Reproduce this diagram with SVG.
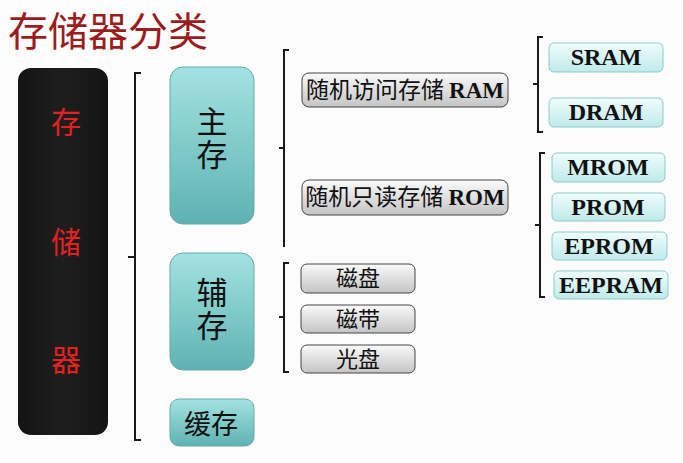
<svg xmlns="http://www.w3.org/2000/svg" width="683" height="463" viewBox="0 0 683 463">
<defs>
<linearGradient id="teal" x1="0" y1="0" x2="0" y2="1"><stop offset="0" stop-color="#a3e2e2"/><stop offset="1" stop-color="#5fb2b2"/></linearGradient>
<linearGradient id="cyan" x1="0" y1="0" x2="0" y2="1"><stop offset="0" stop-color="#f0fcfc"/><stop offset="1" stop-color="#bfeaea"/></linearGradient>
<linearGradient id="gray" x1="0" y1="0" x2="0" y2="1"><stop offset="0" stop-color="#fafafa"/><stop offset="1" stop-color="#c4c4c4"/></linearGradient>
<linearGradient id="blk" x1="0" y1="0" x2="1" y2="0"><stop offset="0" stop-color="#141414"/><stop offset="0.5" stop-color="#1e1e1e"/><stop offset="1" stop-color="#141414"/></linearGradient>
</defs>
<style>
.cjk{font-family:"Noto Sans CJK SC","Noto Sans",sans-serif}
.ser{font-family:"Liberation Serif","Noto Sans CJK SC",serif;font-weight:bold}
.br{fill:none;stroke:#1a1a1a;stroke-width:2}
.tealbox{fill:url(#teal);stroke:#6aa9a9;stroke-width:1}
.cyanbox{fill:url(#cyan);stroke:#8ccaca;stroke-width:1}
.graybox{fill:url(#gray);stroke:#444;stroke-width:1}
.big{font-size:31px;fill:#111;writing-mode:vertical-rl;letter-spacing:2px}
.mid{font-size:22px;fill:#111}
.lbl{font-size:24px;fill:#111}
.glbl{font-size:23px;fill:#111}
</style>
<rect width="683" height="463" fill="#fcfcfc"/>
<text x="8" y="46" class="cjk" font-size="40" fill="#9b1c1c">存储器分类</text>

<g id="root">
<rect x="18" y="68" width="90" height="367" rx="13" fill="url(#blk)"/>
<text class="cjk" font-size="30" fill="#e52020" text-anchor="middle"><tspan x="66" y="133">存</tspan><tspan x="66" y="253">储</tspan><tspan x="66" y="371">器</tspan></text>
</g>

<g id="connectors">
<path class="br" d="M141,73 H135 V440 H141 M135,257 H128"/>
<path class="br" d="M289,50 H284 V247 M284,148 H279"/>
<path class="br" d="M289,263 H284 V372 H289 M284,317 H279"/>
<path class="br" d="M543,37 H538 V132 H543 M538,84 H533"/>
<path class="br" d="M545,153 H540 V297 H545 M540,225 H535"/>
</g>

<g id="main">
<rect class="tealbox" x="170" y="67" width="84" height="157" rx="13"/>
<text class="cjk big" x="212" y="106">主存</text>
</g>
<g id="aux">
<rect class="tealbox" x="170" y="253" width="84" height="117" rx="13"/>
<text class="cjk big" x="212" y="277">辅存</text>
</g>
<g id="cache">
<rect class="tealbox" x="170" y="399" width="84" height="47" rx="9"/>
<text class="cjk" font-size="27" fill="#111" text-anchor="middle" x="211" y="434">缓存</text>
</g>

<g id="ram">
<rect class="graybox" x="302" y="73" width="206" height="34" rx="7"/>
<text x="405" y="98" text-anchor="middle" class="glbl"><tspan class="cjk">随机访问存储 </tspan><tspan class="ser">RAM</tspan></text>
</g>
<g id="rom">
<rect class="graybox" x="302" y="180" width="206" height="35" rx="7"/>
<text x="405" y="205" text-anchor="middle" class="glbl"><tspan class="cjk">随机只读存储 </tspan><tspan class="ser">ROM</tspan></text>
</g>

<g id="sram"><rect class="cyanbox" x="549" y="43" width="114" height="29" rx="5"/><text class="ser lbl" x="606" y="65" text-anchor="middle">SRAM</text></g>
<g id="dram"><rect class="cyanbox" x="549" y="98" width="114" height="29" rx="5"/><text class="ser lbl" x="606" y="120" text-anchor="middle">DRAM</text></g>
<g id="mrom"><rect class="cyanbox" x="552" y="153" width="113" height="29" rx="5"/><text class="ser lbl" x="608" y="175" text-anchor="middle">MROM</text></g>
<g id="prom"><rect class="cyanbox" x="552" y="193" width="113" height="28" rx="5"/><text class="ser lbl" x="608" y="215" text-anchor="middle">PROM</text></g>
<g id="eprom"><rect class="cyanbox" x="552" y="232" width="115" height="28" rx="5"/><text class="ser lbl" x="609" y="254" text-anchor="middle">EPROM</text></g>
<g id="eepram"><rect class="cyanbox" x="554" y="271" width="114" height="28" rx="5"/><text class="ser lbl" x="611" y="293" text-anchor="middle">EEPRAM</text></g>

<g id="disk"><rect class="graybox" x="301" y="264" width="114" height="29" rx="6"/><text class="cjk mid" x="358" y="286" text-anchor="middle">磁盘</text></g>
<g id="tape"><rect class="graybox" x="301" y="305" width="114" height="28" rx="6"/><text class="cjk mid" x="358" y="327" text-anchor="middle">磁带</text></g>
<g id="optical"><rect class="graybox" x="301" y="345" width="114" height="28" rx="6"/><text class="cjk mid" x="358" y="367" text-anchor="middle">光盘</text></g>
</svg>
